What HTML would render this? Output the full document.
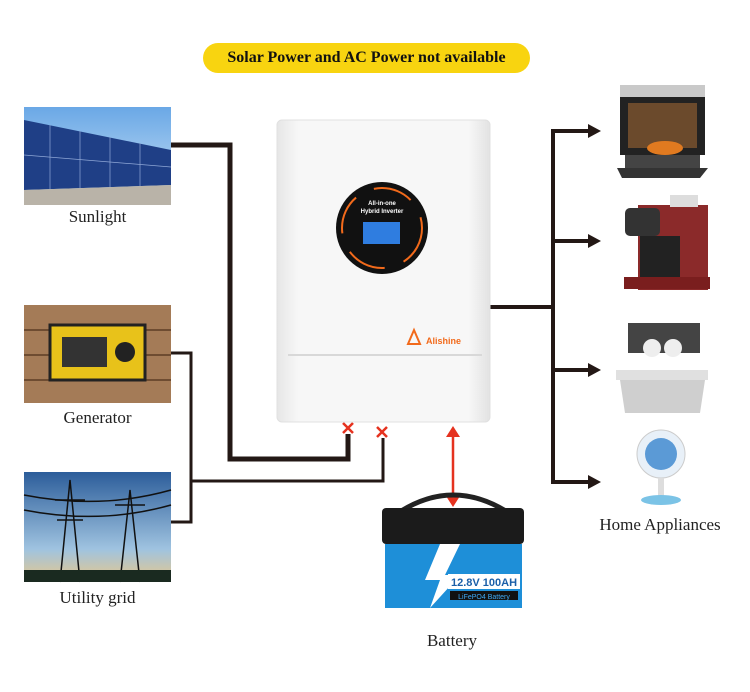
<!DOCTYPE html>
<html><head><meta charset="utf-8"><style>
body{margin:0;width:750px;height:692px;background:#fff;position:relative;overflow:hidden;font-family:"Liberation Serif",serif}
.a{position:absolute}
.lbl{position:absolute;font-size:17px;color:#222;text-align:center}
</style></head><body>
<svg class="a" style="left:0;top:0" width="750" height="692">
<defs>
<linearGradient id="sky" x1="0" y1="0" x2="0" y2="1"><stop offset="0" stop-color="#6aa8e6"/><stop offset="1" stop-color="#cfe4f6"/></linearGradient>
<linearGradient id="dusk" x1="0" y1="0" x2="0" y2="1"><stop offset="0" stop-color="#2c5d9a"/><stop offset=".7" stop-color="#9fc3e0"/><stop offset="1" stop-color="#e9c88a"/></linearGradient>
<linearGradient id="inv" x1="0" y1="0" x2="1" y2="0"><stop offset="0" stop-color="#e6e6e6"/><stop offset=".1" stop-color="#f7f7f7"/><stop offset=".9" stop-color="#f7f7f7"/><stop offset="1" stop-color="#e2e2e2"/></linearGradient>
</defs>
<!-- solar -->
<rect x="24" y="107" width="147" height="98" fill="url(#sky)"/>
<polygon points="24,120 171,150 171,185 24,190" fill="#1f3f86"/>
<polygon points="24,190 171,185 171,205 24,205" fill="#b9b3a8"/>
<g stroke="#8fa7d6" stroke-width=".7"><line x1="50" y1="125" x2="50" y2="189"/><line x1="80" y1="131" x2="80" y2="188"/><line x1="110" y1="137" x2="110" y2="187"/><line x1="140" y1="143" x2="140" y2="186"/><line x1="24" y1="155" x2="171" y2="167"/></g>
<!-- generator -->
<rect x="24" y="305" width="147" height="98" fill="#a47b57"/>
<g stroke="#6e4c31" stroke-width="2"><line x1="24" y1="330" x2="171" y2="330"/><line x1="24" y1="355" x2="171" y2="355"/><line x1="24" y1="380" x2="171" y2="380"/></g>
<rect x="50" y="325" width="95" height="55" fill="#e8c21a" stroke="#222" stroke-width="3"/>
<rect x="62" y="337" width="45" height="30" fill="#333"/>
<circle cx="125" cy="352" r="10" fill="#222"/>
<!-- utility -->
<rect x="24" y="472" width="147" height="110" fill="url(#dusk)"/>
<g stroke="#111" stroke-width="1.5" fill="none"><path d="M60 582 L70 480 L80 582 M55 500 H85 M57 520 H83"/><path d="M120 582 L130 490 L140 582 M115 505 H145"/><path d="M24 495 Q100 510 171 490 M24 510 Q100 525 171 505"/></g>
<rect x="24" y="570" width="147" height="12" fill="#1a2a20"/>
<!-- connectors -->
<g fill="none" stroke="#231815" stroke-linejoin="miter">
<polyline points="171,145 230,145 230,459 348,459 348,434" stroke-width="5"/>
<polyline points="171,353 191,353 191,522 171,522" stroke-width="3"/>
<polyline points="191,481 383,481 383,438" stroke-width="3"/>
<polyline points="488,307 553,307" stroke-width="4"/>
<polyline points="590,131 553,131 553,482 590,482" stroke-width="4"/>
<line x1="553" y1="241" x2="590" y2="241" stroke-width="4"/>
<line x1="553" y1="370" x2="590" y2="370" stroke-width="4"/>
</g>
<g fill="#231815"><polygon points="588,124 601,131 588,138"/><polygon points="588,234 601,241 588,248"/><polygon points="588,363 601,370 588,377"/><polygon points="588,475 601,482 588,489"/></g>
<g stroke="#e5321f" stroke-width="2.5"><path d="M343 423 L353 433 M353 423 L343 433"/><path d="M377 427 L387 437 M387 427 L377 437"/></g>
<line x1="453" y1="435" x2="453" y2="498" stroke="#e5321f" stroke-width="2.5"/>
<polygon points="446,437 453,426 460,437" fill="#e5321f"/><polygon points="446,496 453,507 460,496" fill="#e5321f"/>
<!-- inverter -->
<rect x="277" y="120" width="213" height="302" rx="5" fill="url(#inv)" stroke="#e0e0e0"/>
<line x1="288" y1="355" x2="482" y2="355" stroke="#d8d8d8" stroke-width="2"/>
<circle cx="382" cy="228" r="46" fill="#111"/>
<circle cx="382" cy="228" r="40" fill="none" stroke="#f26a1b" stroke-width="2" stroke-dasharray="40 20"/>
<rect x="363" y="222" width="37" height="22" fill="#2f7de0"/>
<text x="382" y="205" font-family="Liberation Sans" font-size="6" font-weight="bold" fill="#fff" text-anchor="middle">All-in-one</text>
<text x="382" y="213" font-family="Liberation Sans" font-size="6" font-weight="bold" fill="#fff" text-anchor="middle">Hybrid Inverter</text>
<text x="426" y="344" font-family="Liberation Sans" font-size="9" font-weight="bold" fill="#f26a1b">Alishine</text>
<polygon points="408,344 414,330 420,344" fill="none" stroke="#f26a1b" stroke-width="2"/>
<!-- battery -->
<path d="M395 515 Q453 475 512 515" fill="none" stroke="#222" stroke-width="5"/>
<rect x="382" y="508" width="142" height="36" rx="4" fill="#1b1b1b"/>
<rect x="385" y="544" width="137" height="64" fill="#1e8fd8"/>
<polygon points="440,544 460,544 445,575 460,575 430,608 440,580 425,580" fill="#fff"/>
<rect x="448" y="574" width="72" height="15" fill="#fff"/>
<text x="484" y="586" font-family="Liberation Sans" font-size="11" font-weight="bold" fill="#1b5fa8" text-anchor="middle">12.8V 100AH</text>
<rect x="450" y="591" width="68" height="9" fill="#111"/>
<text x="484" y="599" font-family="Liberation Sans" font-size="7" fill="#3fa9f5" text-anchor="middle">LiFePO4 Battery</text>
<!-- appliances -->
<rect x="620" y="85" width="85" height="12" fill="#c9c9c9"/>
<rect x="620" y="97" width="85" height="58" fill="#222"/>
<rect x="628" y="103" width="69" height="45" fill="#6b4a2c"/>
<ellipse cx="665" cy="148" rx="18" ry="7" fill="#e07a20"/>
<polygon points="617,168 708,168 700,178 622,178" fill="#333"/>
<rect x="625" y="155" width="75" height="13" fill="#444"/>
<rect x="638" y="205" width="70" height="85" fill="#8b2a2a"/>
<rect x="625" y="208" width="35" height="28" rx="5" fill="#333"/>
<rect x="640" y="236" width="40" height="44" fill="#222"/>
<rect x="624" y="277" width="86" height="12" fill="#7a1e1e"/>
<rect x="670" y="195" width="28" height="12" fill="#ddd"/>
<rect x="628" y="323" width="72" height="30" fill="#444"/>
<circle cx="652" cy="348" r="9" fill="#eee"/><circle cx="673" cy="348" r="9" fill="#eee"/>
<rect x="616" y="370" width="92" height="10" fill="#e0e0e0"/>
<polygon points="620,380 705,380 700,413 625,413" fill="#cfcfcf"/>
<circle cx="661" cy="454" r="24" fill="#e8f0f8" stroke="#ccc"/>
<circle cx="661" cy="454" r="16" fill="#5b9ad6"/>
<rect x="658" y="478" width="6" height="20" fill="#ddd"/>
<ellipse cx="661" cy="500" rx="20" ry="5" fill="#7bc3e6"/>
</svg>
<div class="a" style="left:203px;top:43px;width:327px;height:30px;background:#f8d410;border-radius:15px;font-weight:bold;font-size:16px;line-height:30px;text-align:center;color:#111">Solar Power and AC Power not available</div>
<div class="lbl" style="left:24px;top:207px;width:147px">Sunlight</div>
<div class="lbl" style="left:24px;top:408px;width:147px">Generator</div>
<div class="lbl" style="left:24px;top:588px;width:147px">Utility grid</div>
<div class="lbl" style="left:580px;top:515px;width:160px">Home Appliances</div>
<div class="lbl" style="left:392px;top:631px;width:120px">Battery</div>
</body></html>
